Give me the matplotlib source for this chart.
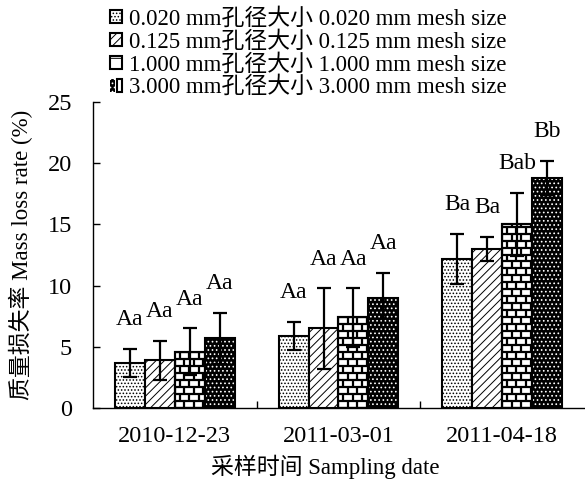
import numpy as np
import matplotlib
matplotlib.use('Agg')
import matplotlib.pyplot as plt
from matplotlib.patches import Patch
from matplotlib.collections import LineCollection
from matplotlib.legend_handler import HandlerTuple

plt.rcParams['font.family'] = ['Liberation Serif', 'Noto Sans CJK SC']
plt.rcParams['hatch.linewidth'] = 0.7

# Data
dates = ['2010-12-23', '2011-03-01', '2011-04-18']
mesh_labels = ['0.020 mm孔径大小 0.020 mm mesh size',
               '0.125 mm孔径大小 0.125 mm mesh size',
               '1.000 mm孔径大小 1.000 mm mesh size',
               '3.000 mm孔径大小 3.000 mm mesh size']
mesh_020 = [3.7, 5.9, 12.2]
mesh_125 = [3.9, 6.5, 13.0]
mesh_1000 = [4.6, 7.4, 15.0]
mesh_3000 = [5.7, 9.0, 18.8]
err_020 = [1.15, 1.15, 2.05]
err_125 = [1.6, 3.3, 1.0]
err_1000 = [1.9, 2.4, 2.6]
err_3000 = [2.1, 2.05, 1.4]
sig_020 = ['Aa', 'Aa', 'Ba']
sig_125 = ['Aa', 'Aa', 'Ba']
sig_1000 = ['Aa', 'Aa', 'Bab']
sig_3000 = ['Aa', 'Aa', 'Bb']

values = [mesh_020, mesh_125, mesh_1000, mesh_3000]
errors = [err_020, err_125, err_1000, err_3000]
letters = [sig_020, sig_125, sig_1000, sig_3000]


def draw_bricks(ax, rect, row_h=0.57, brick_w=0.058):
    # brick pattern drawn as lines clipped to the bar
    x0, y0 = rect.get_x(), rect.get_y()
    w, h = rect.get_width(), rect.get_height()
    segs = []
    n_rows = int(np.ceil(h / row_h))
    for r in range(n_rows + 1):
        yb = y0 + r * row_h
        segs.append([(x0, yb), (x0 + w, yb)])
        off = 0 if r % 2 == 0 else brick_w / 2
        xv = x0 + off
        while xv < x0 + w:
            segs.append([(xv, yb), (xv, yb + row_h)])
            xv += brick_w
    lc = LineCollection(segs, colors='black', linewidths=1.6, zorder=2.5)
    ax.add_collection(lc)
    lc.set_clip_path(rect)


fig = plt.figure(figsize=(5.85, 4.84), dpi=100)
ax = fig.add_axes([93 / 585, 1 - 408 / 484, (584 - 93) / 585, 306 / 484])

x = np.arange(len(dates))
w = 0.183
tick_font = 17.5
ann_font = 17

for i in range(4):
    pos = x + (i - 1.5) * w
    if i == 0:
        ax.bar(pos, values[i], w, facecolor='white', edgecolor='black',
               hatch='.....', linewidth=1.5, zorder=2)
    elif i == 1:
        ax.bar(pos, values[i], w, facecolor='white', edgecolor='black',
               hatch='////', linewidth=1.5, zorder=2)
    elif i == 2:
        bars = ax.bar(pos, values[i], w, facecolor='white', edgecolor='black',
                      linewidth=1.5, zorder=2)
        for b in bars:
            draw_bricks(ax, b)
        ax.bar(pos, values[i], w, fill=False, edgecolor='black',
               linewidth=1.5, zorder=2.6)
    else:
        ax.bar(pos, values[i], w, facecolor='black', edgecolor='white',
               hatch='....', linewidth=0, zorder=2)
        ax.bar(pos, values[i], w, fill=False, edgecolor='black',
               linewidth=1.5, zorder=2.6)
    ax.errorbar(pos, values[i], yerr=errors[i], fmt='none', ecolor='black',
                elinewidth=1.6, capsize=5, capthick=1.6, zorder=3)
    for xp, v, e, t in zip(pos, values[i], errors[i], letters[i]):
        ax.text(xp, v + e + 1.9, t, ha='center', va='baseline',
                fontsize=ann_font)

ax.set_xlim(-0.5, 2.5)
ax.set_ylim(0, 25)
ax.set_yticks([0, 5, 10, 15, 20, 25])
ax.tick_params(axis='y', direction='in', length=5, width=1,
               labelsize=tick_font, pad=15)
# tick marks between groups, labels under groups
ax.set_xticks([0.5, 1.5])
ax.set_xticklabels([])
ax.set_xticks(x, minor=True)
ax.set_xticklabels(dates, minor=True)
ax.tick_params(axis='x', which='major', direction='in', length=5, width=1)
ax.tick_params(axis='x', which='minor', length=0, labelsize=tick_font, pad=13)

ax.spines['top'].set_visible(False)
ax.spines['right'].set_visible(False)
ax.spines['left'].set_linewidth(1)
ax.spines['bottom'].set_linewidth(1)

ax.set_ylabel('质量损失率 Mass loss rate (%)', fontsize=16.5, va='center')
ax.yaxis.set_label_coords(-(93 - 21) / 491, 0.5)
ax.set_xlabel('采样时间 Sampling date', fontsize=16.5, va='center')
ax.xaxis.set_label_coords(0.4725, -(467 - 408) / 306)

handles = [
    Patch(facecolor='white', edgecolor='black', hatch='.....', linewidth=1.5),
    Patch(facecolor='white', edgecolor='black', hatch='////', linewidth=1.5),
    Patch(facecolor='white', edgecolor='black', hatch='+', linewidth=1.5),
    (Patch(facecolor='black', edgecolor='white', hatch='....', linewidth=0),
     Patch(fill=False, edgecolor='black', linewidth=1.5)),
]
fig.legend(handles, mesh_labels, loc='upper left',
           bbox_to_anchor=(108 / 585, 1 - 6 / 484), frameon=False,
           fontsize=16.5, handlelength=0.5, handleheight=0.5,
           handletextpad=0.3, labelspacing=0.05, borderaxespad=0,
           borderpad=0.1, handler_map={tuple: HandlerTuple(ndivide=None)})

fig.savefig('out.png', dpi=100)
